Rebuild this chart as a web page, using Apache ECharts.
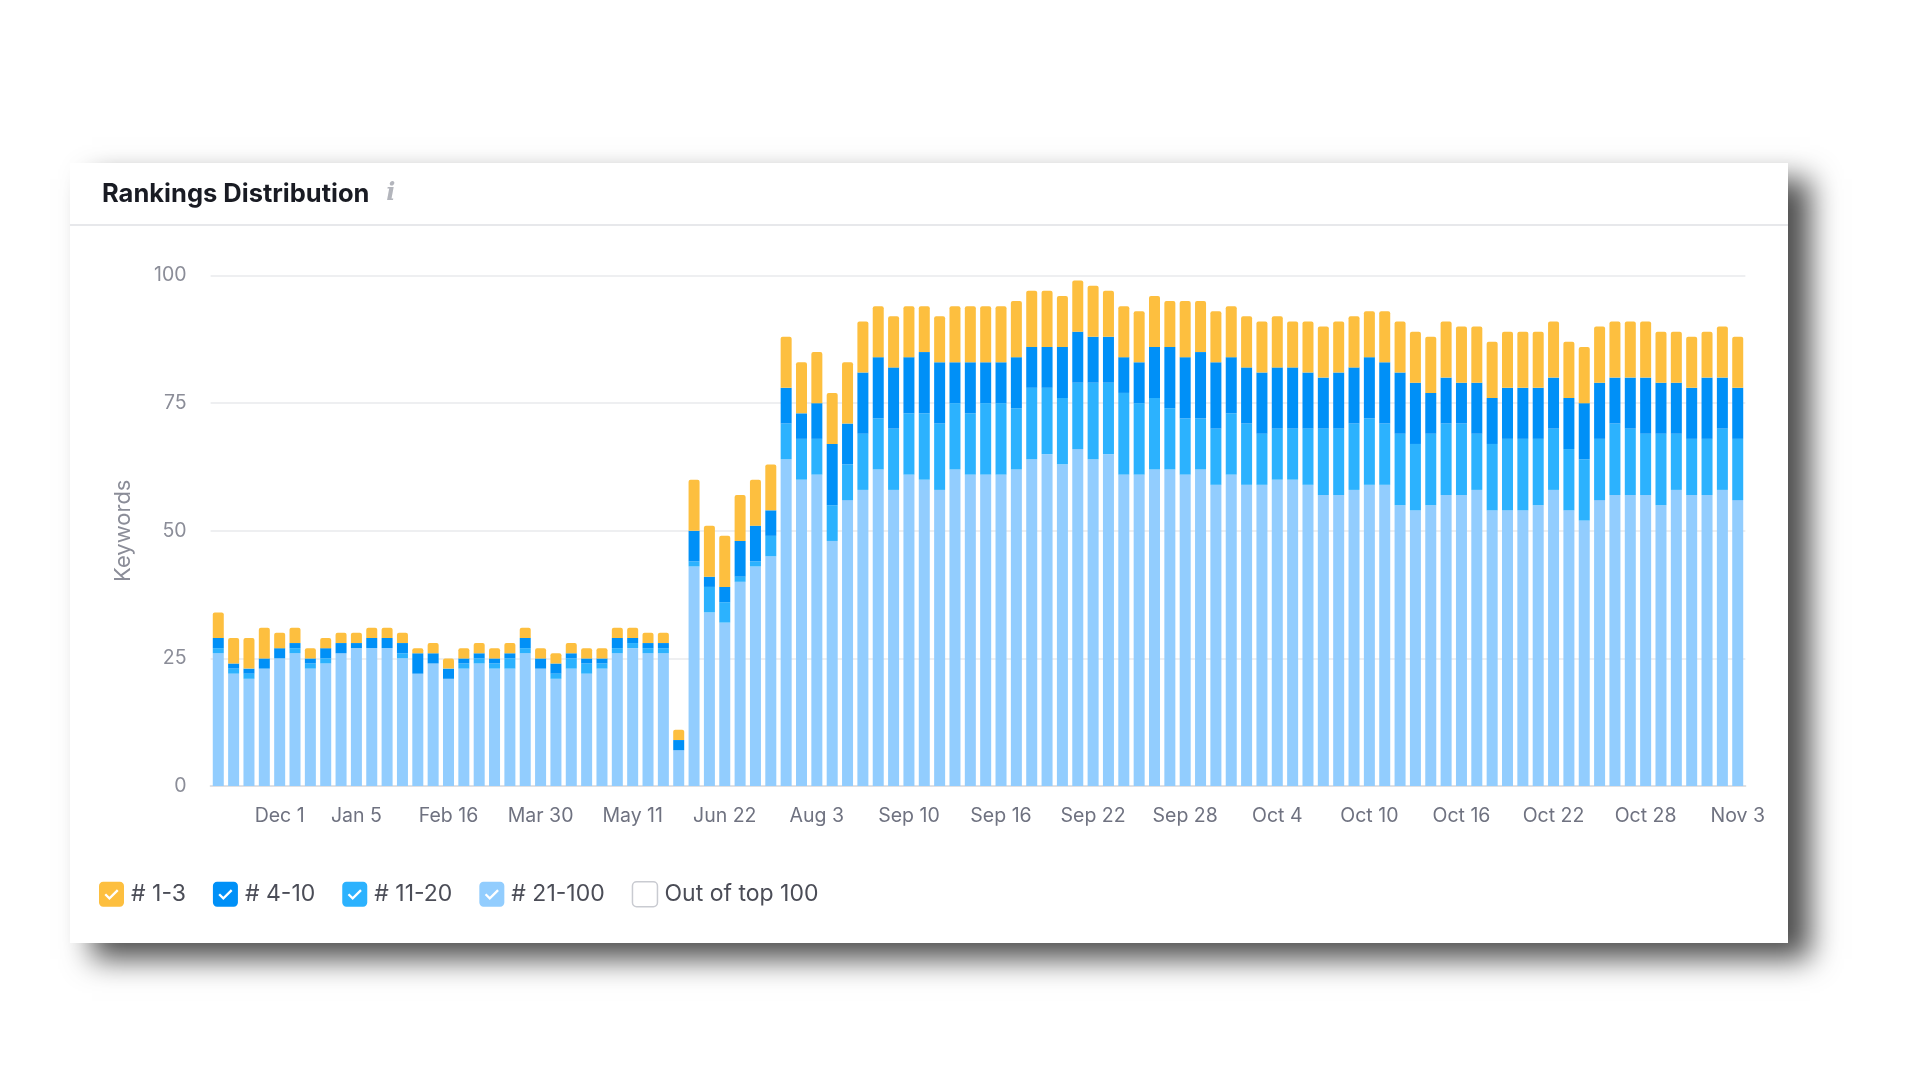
<!DOCTYPE html>
<html>
<head>
<meta charset="utf-8">
<script src="https://cdn.jsdelivr.net/npm/echarts@6/dist/echarts.min.js"></script>
<style>
html,body{margin:0;padding:0;background:#fff;}
#chart{width:1920px;height:1080px;}
</style>
</head>
<body>
<div id="chart"></div>
<script>
// ---- DATA ----
const dates = [
'2022-11-03','2022-11-10','2022-11-17','2022-11-24','2022-12-01','2022-12-08','2022-12-15','2022-12-22','2022-12-29',
'2023-01-05','2023-01-12','2023-01-19','2023-01-26','2023-02-02','2023-02-09','2023-02-16','2023-02-23',
'2023-03-02','2023-03-09','2023-03-16','2023-03-23','2023-03-30','2023-04-06','2023-04-13','2023-04-20','2023-04-27',
'2023-05-04','2023-05-11','2023-05-18','2023-05-25','2023-06-01','2023-06-08','2023-06-15','2023-06-22','2023-06-29',
'2023-07-06','2023-07-13','2023-07-20','2023-07-27','2023-08-03','2023-08-10','2023-08-17','2023-08-24','2023-08-31','2023-09-07',
'2023-09-10','2023-09-11','2023-09-12','2023-09-13','2023-09-14','2023-09-15','2023-09-16','2023-09-17','2023-09-18','2023-09-19',
'2023-09-20','2023-09-21','2023-09-22','2023-09-23','2023-09-24','2023-09-25','2023-09-26','2023-09-27','2023-09-28','2023-09-29','2023-09-30',
'2023-10-01','2023-10-02','2023-10-03','2023-10-04','2023-10-05','2023-10-06','2023-10-07','2023-10-08','2023-10-09','2023-10-10',
'2023-10-11','2023-10-12','2023-10-13','2023-10-14','2023-10-15','2023-10-16','2023-10-17','2023-10-18','2023-10-19','2023-10-20',
'2023-10-21','2023-10-22','2023-10-23','2023-10-24','2023-10-25','2023-10-26','2023-10-27','2023-10-28','2023-10-29','2023-10-30','2023-10-31',
'2023-11-01','2023-11-02','2023-11-03'
];
const tickDates = ['2022-12-01','2023-01-05','2023-02-16','2023-03-30','2023-05-11','2023-06-22','2023-08-03',
'2023-09-10','2023-09-16','2023-09-22','2023-09-28','2023-10-04','2023-10-10','2023-10-16','2023-10-22','2023-10-28','2023-11-03'];
const yTicks = [0, 25, 50, 75, 100];

const top1to3 = [5,5,6,6,3,3,2,2,2,2, 2,2,2,1,2,2,2,2,2,2, 2,2,2,2,2,2,2,2,2,2,
 2,10,10,10,9,9,9,10,10,10, 10,12,10,10,10,10,9,9,11,11, 11,11,11,11,11,10,10,10,9,10,
 10,10,9,11,10,10,10,10,10,10, 9,10,10,10,10,9,10,10,10,11, 11,11,11,11,11,11,11,11,11,11,
 11,11,11,11,10,10,10,9,10,10];
const top4to10 = [2,1,1,2,2,1,1,2,2,1, 2,2,2,4,2,2,1,1,1,1, 2,2,2,1,1,1,2,1,1,1,
 2,6,2,3,7,7,5,7,5,7, 12,8,12,12,12,11,12,12,8,10, 8,8,10,8,8,10,10,9,9,7,
 8,10,12,12,13,13,11,11,12,12, 12,11,10,11,11,12,12,12,12,8, 9,8,10,9,10,10,10,10,10,11,
 11,9,10,11,10,10,10,12,10,10];
const top11to20 = [1,1,1,0,0,1,1,1,0,0, 0,0,1,0,0,0,1,1,1,2, 1,0,1,2,2,1,1,1,1,1,
 0,1,5,4,1,1,4,7,8,7, 7,7,11,10,12,12,13,13,13,12, 14,14,12,14,13,13,13,15,14,16,
 14,14,12,11,10,11,12,12,10,10, 10,11,13,13,13,13,12,14,13,14, 14,14,11,13,14,14,13,12,12,12,
 12,14,13,12,14,11,11,11,12,12];
const top21to100 = [26,22,21,23,25,26,23,24,26,27, 27,27,25,22,24,21,23,24,23,23, 26,23,21,23,22,23,26,27,26,26,
 7,43,34,32,40,43,45,64,60,61, 48,56,58,62,58,61,60,58,62,61, 61,61,62,64,65,63,66,64,65,61,
 61,62,62,61,62,59,61,59,59,60, 60,59,57,57,58,59,59,55,54,55, 57,57,58,54,54,54,55,58,54,52,
 56,57,57,57,55,58,57,57,58,56];
const outOfTop100 = [];

// ---- RENDER ----
const MONTHS = ['Jan','Feb','Mar','Apr','May','Jun','Jul','Aug','Sep','Oct','Nov','Dec'];
function fmtDate(s){ const p = s.split('-'); return MONTHS[+p[1]-1] + ' ' + (+p[2]); }

const FONT = 'Inter, "Noto Sans", Roboto, sans-serif';
const C_Y = '#FDBF3F', C_D = '#0090F7', C_M = '#2CB2FE', C_L = '#92CDFE';

const rectPath = 'M4 0 H20 A4 4 0 0 1 24 4 V20 A4 4 0 0 1 20 24 H4 A4 4 0 0 1 0 20 V4 A4 4 0 0 1 4 0 Z';
const checkPath = 'path://' + rectPath + ' M5.2 12.8 L10 17.6 L18.8 8.8 L17.2 7.2 L10 14.4 L6.8 11.2 Z';
const emptyPath = 'path://' + rectPath;

const chart = echarts.init(document.getElementById('chart'), null, {renderer:'canvas'});

function barSeries(name, data, color, extra){
  return Object.assign({
    name: name, type: 'bar', stack: 'total', data: data, barWidth: 11,
    itemStyle: { color: color }, emphasis: { disabled: true }, animation: false
  }, extra || {});
}

chart.setOption({
  animation: false,
  backgroundColor: '#ffffff',
  graphic: [
    { type: 'rect', z: -10, shape: { x: 70, y: 163, width: 1718, height: 780 },
      style: { fill: '#ffffff', shadowBlur: 28, shadowOffsetX: 22, shadowOffsetY: 16, shadowColor: 'rgba(0,0,0,0.7)' } },
    { type: 'line', z: -9, shape: { x1: 70, y1: 225, x2: 1788, y2: 225 },
      style: { stroke: '#e7e8eb', lineWidth: 2 } }
  ],
  title: {
    left: 97, top: 176,
    text: '{a|Rankings Distribution}{b|  i}',
    textStyle: {
      rich: {
        a: { fontFamily: FONT, fontSize: 25.5, fontWeight: 'bold', color: '#191b23' },
        b: { fontFamily: '"DejaVu Serif", serif', fontSize: 24, fontStyle: 'italic', color: '#b3b5bc' }
      }
    }
  },
  legend: {
    left: 94, top: 876, itemWidth: 25, itemHeight: 25, itemGap: 27,
    selectedMode: false,
    textStyle: { fontFamily: FONT, fontSize: 23, color: '#4b4d57', padding: [0,0,0,2] },
    data: [
      { name: '# 1-3', icon: checkPath },
      { name: '# 4-10', icon: checkPath },
      { name: '# 11-20', icon: checkPath },
      { name: '# 21-100', icon: checkPath },
      { name: 'Out of top 100', icon: emptyPath, itemStyle: { color: '#ffffff', borderColor: '#c9cbd1', borderWidth: 1.5 } }
    ]
  },
  grid: { left: 210.6, right: 174.6, top: 275.5, bottom: 294, containLabel: false },
  xAxis: {
    type: 'category', data: dates,
    axisTick: { show: false },
    axisLine: { lineStyle: { color: '#dfe0e3', width: 2 } },
    axisLabel: {
      interval: function(idx, val){ return tickDates.indexOf(val) >= 0; },
      formatter: function(val){ return fmtDate(val); },
      fontFamily: FONT, fontSize: 19.5, color: '#6f7280', margin: 20
    }
  },
  yAxis: {
    type: 'value', min: yTicks[0], max: yTicks[yTicks.length-1], interval: 25,
    name: 'Keywords', nameLocation: 'middle', nameGap: 76,
    nameTextStyle: { fontFamily: FONT, fontSize: 22, color: '#8b8d98' },
    axisLine: { show: false }, axisTick: { show: false },
    axisLabel: { fontFamily: FONT, fontSize: 19.5, color: '#8b8d98', margin: 24 },
    splitLine: { lineStyle: { color: '#e9eaed', width: 1.5 } }
  },
  series: [
    barSeries('# 21-100', top21to100, C_L),
    barSeries('# 11-20', top11to20, C_M),
    barSeries('# 4-10', top4to10, C_D),
    barSeries('# 1-3', top1to3, C_Y, { itemStyle: { color: C_Y, borderRadius: [2,2,0,0] } }),
    barSeries('Out of top 100', outOfTop100, '#ffffff')
  ]
});
</script>
</body>
</html>
